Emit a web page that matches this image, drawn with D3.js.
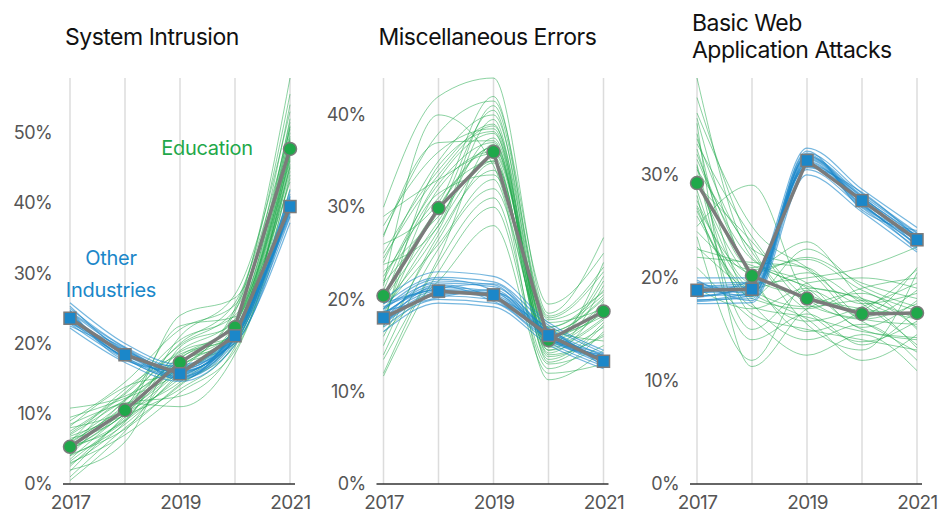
<!doctype html>
<html>
<head>
<meta charset="utf-8">
<title>Education vs other industries</title>
<script src="https://cdnjs.cloudflare.com/ajax/libs/d3/7.8.5/d3.min.js"></script>
<style>
  body { margin: 0; background: #fff; font-family: Inter, "Liberation Sans", sans-serif; }
  svg { display: block; }
</style>
</head>
<body>
<svg id="chart" width="938" height="512"></svg>
<script>
var years = [2017, 2018, 2019, 2020, 2021];
var yearLabels = [2017, 2019, 2021];
var panelTitles = [["System Intrusion"], ["Miscellaneous Errors"], ["Basic Web", "Application Attacks"]];

// mean lines (percent)
var eduMean = [
  [5.3, 10.5, 17.3, 22.3, 47.7],
  [20.4, 29.9, 36.0, 15.6, 18.7],
  [29.2, 20.2, 18.0, 16.5, 16.6]
];
var otherMean = [
  [23.6, 18.4, 15.7, 21.1, 39.5],
  [18.0, 20.9, 20.5, 16.1, 13.3],
  [18.8, 18.9, 31.4, 27.5, 23.7]
];

var eduSystem = [
  [1.0, 8.0, 14.0, 21.0, 45.0], [2.5, 9.5, 16.0, 22.0, 48.0], [4.0, 12.0, 19.0, 23.5, 50.0],
  [6.0, 11.0, 18.0, 21.5, 46.0], [7.5, 13.0, 20.5, 24.0, 52.0], [9.0, 14.5, 22.0, 25.5, 54.0],
  [10.8, 12.5, 17.0, 20.0, 44.0], [3.0, 7.0, 13.0, 19.0, 42.0], [5.0, 9.0, 15.5, 22.5, 47.0],
  [6.5, 10.0, 24.0, 26.5, 49.5], [4.5, 11.5, 11.0, 18.5, 40.0], [8.0, 10.5, 16.5, 24.5, 57.8],
  [2.0, 6.0, 19.5, 23.0, 51.0], [7.0, 12.0, 17.5, 20.5, 45.5], [5.5, 9.0, 21.0, 27.0, 53.0],
  [3.5, 10.0, 14.5, 22.0, 43.0], [6.0, 13.5, 18.5, 21.0, 48.5], [4.0, 8.5, 16.0, 25.0, 50.5],
  [8.5, 11.5, 12.5, 19.5, 46.5], [0.5, 7.5, 17.0, 22.0, 47.5],
  [4.8, 10.0, 16.8, 21.8, 46.8], [5.8, 11.2, 18.2, 23.0, 49.0], [3.2, 9.2, 15.0, 20.8, 44.5],
  [7.2, 12.8, 19.8, 24.8, 51.5], [5.0, 10.8, 22.5, 23.8, 48.8], [6.8, 9.8, 13.5, 20.2, 45.2],
  [2.8, 8.8, 18.8, 21.2, 47.2], [8.2, 13.8, 16.2, 22.8, 50.8], [4.2, 7.8, 14.2, 19.8, 43.5],
  [6.2, 11.8, 20.0, 25.8, 55.5], [1.8, 9.8, 17.8, 23.2, 46.2], [9.5, 12.2, 15.8, 21.8, 49.2]
];
var otherSystem = [
  [22.2, 17.3, 14.6, 19.8, 37.2], [22.8, 17.8, 15.0, 20.3, 38.0], [23.2, 18.0, 15.3, 20.7, 38.8],
  [23.6, 18.4, 15.6, 21.0, 39.4], [24.0, 18.7, 15.9, 21.4, 40.0], [24.5, 19.1, 16.3, 21.8, 40.6],
  [25.0, 19.5, 16.6, 22.2, 41.3], [25.8, 20.0, 17.0, 21.6, 41.8], [22.5, 18.9, 15.2, 21.5, 39.0],
  [24.8, 17.6, 16.1, 20.5, 40.2], [23.0, 19.3, 14.8, 22.0, 38.5], [24.2, 18.2, 16.8, 20.1, 39.8],
  [23.4, 18.6, 15.4, 21.2, 39.0], [24.4, 18.0, 16.0, 20.8, 40.4], [22.9, 19.0, 15.7, 21.7, 38.2],
  [25.3, 18.8, 16.4, 21.1, 41.0], [23.8, 17.9, 15.1, 20.9, 39.6], [24.6, 19.4, 15.8, 21.9, 40.8]
];
var eduMisc = [
  [12.0, 24.0, 31.0, 13.0, 15.0], [15.0, 27.0, 34.0, 14.5, 17.0], [18.0, 30.0, 36.5, 16.0, 19.5],
  [21.0, 33.0, 38.0, 17.0, 21.0], [24.0, 35.0, 40.0, 18.0, 23.0], [27.0, 38.0, 41.5, 19.5, 25.0],
  [30.0, 42.0, 44.0, 18.5, 26.7], [16.5, 22.0, 28.0, 12.0, 13.0], [19.0, 26.0, 33.0, 11.3, 14.5],
  [22.5, 31.0, 35.0, 15.0, 18.0], [20.0, 28.5, 37.5, 16.5, 20.0], [25.0, 34.0, 39.0, 14.0, 16.0],
  [14.0, 25.5, 32.0, 15.5, 22.0], [23.0, 29.0, 35.5, 13.5, 17.5], [17.5, 32.0, 36.0, 17.5, 19.0],
  [28.0, 36.0, 38.5, 15.0, 24.0], [11.7, 23.0, 30.0, 12.5, 16.5], [21.5, 40.0, 34.5, 16.0, 18.5],
  [19.5, 27.5, 39.5, 14.5, 21.5], [26.0, 30.5, 42.0, 17.0, 20.5],
  [20.5, 30.0, 36.5, 15.5, 19.0], [22.0, 32.5, 37.0, 16.2, 18.2], [18.5, 28.0, 35.0, 14.8, 17.8],
  [24.5, 33.5, 38.8, 17.8, 20.8], [16.0, 26.5, 34.8, 13.8, 16.2], [21.8, 29.5, 40.5, 15.8, 22.5],
  [19.8, 31.5, 33.5, 16.8, 15.5], [26.8, 37.0, 37.2, 14.2, 19.8], [13.5, 24.5, 36.8, 15.2, 18.8],
  [23.8, 28.0, 41.0, 18.2, 23.5], [17.0, 34.5, 38.2, 13.2, 17.2], [29.0, 33.0, 35.8, 16.5, 20.2]
];
var otherMisc = [
  [16.5, 19.6, 19.2, 15.1, 12.5], [17.0, 20.0, 19.6, 15.4, 12.8], [17.5, 20.4, 20.0, 15.8, 13.0],
  [18.0, 20.9, 20.5, 16.1, 13.3], [18.4, 21.3, 20.9, 16.4, 13.6], [18.9, 21.8, 21.4, 16.8, 13.9],
  [19.5, 22.4, 21.9, 17.2, 14.2], [20.0, 23.0, 22.5, 17.5, 14.5], [17.2, 21.5, 19.8, 16.6, 13.1],
  [18.7, 20.2, 21.1, 15.6, 13.8], [19.2, 21.0, 20.2, 16.9, 12.7], [17.8, 22.0, 21.6, 15.9, 14.0],
  [17.6, 20.7, 20.3, 15.9, 13.2], [18.5, 21.1, 20.7, 16.3, 13.5], [19.0, 22.2, 21.0, 16.0, 13.9],
  [17.3, 20.5, 20.8, 16.7, 13.4], [18.2, 21.6, 20.1, 15.7, 13.7], [19.6, 21.2, 21.7, 16.4, 14.1]
];
var eduWeb = [
  [39.4, 22.0, 19.0, 15.0, 14.0], [36.0, 25.0, 21.0, 17.5, 18.5], [34.0, 18.0, 17.0, 19.0, 20.0],
  [32.5, 21.0, 23.5, 18.0, 16.0], [31.0, 16.5, 15.0, 14.0, 13.0], [30.0, 19.5, 20.0, 21.0, 23.0],
  [29.0, 23.5, 17.5, 16.0, 15.5], [28.0, 14.0, 16.5, 13.5, 17.0], [27.0, 20.5, 22.0, 19.5, 18.0],
  [26.0, 17.5, 14.0, 15.5, 12.0], [25.0, 29.0, 18.5, 17.0, 16.5], [24.0, 12.0, 19.5, 20.0, 19.0],
  [23.0, 18.5, 16.0, 12.0, 14.5], [22.0, 21.5, 21.0, 16.5, 21.0], [21.0, 16.0, 12.5, 14.5, 11.0],
  [35.0, 11.4, 17.0, 18.5, 15.0], [33.0, 24.0, 18.0, 16.0, 17.5], [19.0, 17.0, 19.0, 18.0, 16.0],
  [30.5, 22.5, 15.5, 13.0, 20.5], [26.5, 19.0, 20.5, 17.5, 13.5],
  [29.5, 20.0, 18.2, 16.8, 16.5], [31.5, 21.8, 19.5, 15.2, 17.8], [27.5, 18.8, 17.2, 17.8, 15.2],
  [33.5, 22.8, 20.8, 16.2, 18.8], [28.5, 17.2, 16.2, 14.8, 14.2], [35.5, 19.8, 15.8, 17.2, 19.5],
  [24.5, 20.8, 21.8, 18.8, 16.8], [30.8, 15.0, 18.8, 15.8, 12.8], [37.5, 23.0, 16.8, 13.8, 15.8],
  [26.8, 18.2, 22.8, 19.2, 17.2], [32.0, 20.2, 14.8, 16.8, 20.8], [22.8, 21.2, 19.2, 17.8, 13.2]
];
var otherWeb = [
  [17.5, 17.6, 30.0, 26.4, 22.5], [17.9, 18.0, 30.5, 26.8, 22.9], [18.3, 18.4, 30.9, 27.1, 23.2],
  [18.7, 18.8, 31.3, 27.5, 23.6], [19.1, 19.2, 31.7, 27.8, 24.0], [19.5, 19.6, 32.1, 28.2, 24.4],
  [20.0, 20.0, 32.6, 28.6, 24.9], [18.1, 19.4, 31.0, 27.9, 23.0], [19.3, 18.2, 31.9, 27.0, 24.2],
  [18.5, 19.8, 30.7, 28.3, 23.9], [17.8, 18.6, 32.3, 26.6, 24.6], [19.8, 17.8, 31.5, 27.3, 22.7],
  [18.6, 18.7, 31.2, 27.4, 23.5], [19.0, 19.0, 31.6, 27.6, 23.8], [18.2, 19.3, 30.8, 27.7, 24.1],
  [19.6, 18.5, 32.0, 27.2, 23.3], [17.7, 18.3, 31.1, 26.9, 23.7], [19.2, 19.5, 31.8, 28.0, 24.3]
];

var eduSamples = [eduSystem, eduMisc, eduWeb];
var otherSamples = [otherSystem, otherMisc, otherWeb];

var green = "#1fa84a", blue = "#1b87c9", grey = "#7b7b7b";
var font = "Inter, 'Liberation Sans', sans-serif";

var svg = d3.select("#chart");
var plotTop = 78, plotBottom = 484, panelW = 220;

[0, 1, 2].forEach(function (p) {
  var left = 70 + p * 313.5;
  var g = svg.append("g");

  var x = d3.scaleLinear().domain([2017, 2021]).range([left, left + panelW]);
  var ymax = d3.max(eduSamples[p].concat(otherSamples[p]), function (r) { return d3.max(r); });
  var y = d3.scaleLinear().domain([0, ymax]).range([plotBottom, plotTop]);

  // title
  var t = g.append("text")
    .attr("x", left - 5).attr("y", panelTitles[p].length > 1 ? 31 : 45)
    .attr("font-size", "23px").attr("fill", "#111").attr("letter-spacing", "-0.5px");
  panelTitles[p].forEach(function (line, i) {
    t.append("tspan").attr("x", left - 5).attr("dy", i ? 27 : 0).text(line);
  });

  // vertical gridlines
  g.selectAll(".grid").data(years).enter().append("line")
    .attr("x1", d => x(d)).attr("x2", d => x(d))
    .attr("y1", plotTop).attr("y2", plotBottom)
    .attr("stroke", "#dcdcdc").attr("stroke-width", 1.5);

  // y axis labels
  var yAxis = d3.axisLeft(y).tickValues(d3.range(0, ymax, 10)).tickSize(0).tickPadding(18)
    .tickFormat(d => d + "%");
  var ya = g.append("g").attr("transform", "translate(" + left + ",0)").call(yAxis);
  ya.select(".domain").remove();
  ya.selectAll("text").attr("font-size", "18px").attr("fill", "#555")
    .attr("font-family", font).attr("letter-spacing", "-0.6px");

  // x axis
  var xAxis = d3.axisBottom(x).tickValues(yearLabels).tickSize(0).tickPadding(12)
    .tickFormat(d3.format("d"));
  var xa = g.append("g").attr("transform", "translate(0," + plotBottom + ")").call(xAxis);
  xa.select(".domain").attr("d", "M" + (left - 7) + ",0H" + (left + panelW + 5))
    .attr("stroke", "#333").attr("stroke-width", 1.5);
  xa.selectAll("text").attr("font-size", "19px").attr("fill", "#555")
    .attr("font-family", font).attr("letter-spacing", "-0.6px");

  var smooth = d3.line().x((d, i) => x(years[i])).y(d => y(d)).curve(d3.curveMonotoneX);
  var straight = d3.line().x((d, i) => x(years[i])).y(d => y(d));

  g.selectAll(".edu").data(eduSamples[p]).enter().append("path")
    .attr("d", smooth).attr("fill", "none").attr("stroke", green)
    .attr("stroke-width", 0.8).attr("stroke-opacity", 0.65);
  g.selectAll(".oth").data(otherSamples[p]).enter().append("path")
    .attr("d", smooth).attr("fill", "none").attr("stroke", blue)
    .attr("stroke-width", 1.2).attr("stroke-opacity", 0.6);

  [eduMean[p], otherMean[p]].forEach(function (m) {
    g.append("path").attr("d", straight(m)).attr("fill", "none")
      .attr("stroke", grey).attr("stroke-width", 3.5).attr("stroke-linejoin", "round");
  });

  g.selectAll(".dot").data(eduMean[p]).enter().append("circle")
    .attr("cx", (d, i) => x(years[i])).attr("cy", d => y(d)).attr("r", 6.5)
    .attr("fill", green).attr("stroke", grey).attr("stroke-width", 1.5);
  g.selectAll(".sq").data(otherMean[p]).enter().append("rect")
    .attr("x", (d, i) => x(years[i]) - 6).attr("y", d => y(d) - 6)
    .attr("width", 12).attr("height", 12)
    .attr("fill", blue).attr("stroke", grey).attr("stroke-width", 1.5);

  if (p === 0) {
    g.append("text").attr("x", 207).attr("y", 155).attr("text-anchor", "middle")
      .attr("font-size", "20px").attr("fill", green).attr("letter-spacing", "-0.3px").text("Education");
    var o = g.append("text").attr("x", 111).attr("y", 265).attr("text-anchor", "middle")
      .attr("font-size", "20px").attr("fill", blue).attr("letter-spacing", "-0.3px");
    o.append("tspan").attr("x", 111).text("Other");
    o.append("tspan").attr("x", 111).attr("dy", 32).text("Industries");
  }
});
</script>
</body>
</html>
